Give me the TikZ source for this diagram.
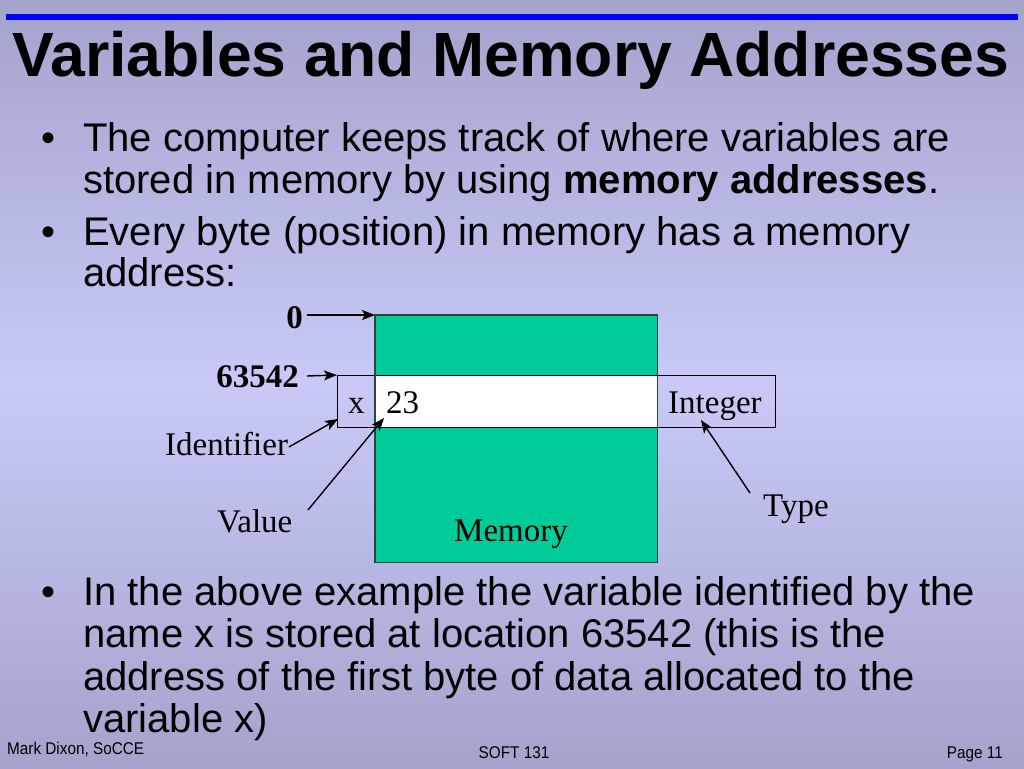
\documentclass[tikz,border=0pt]{standalone}
\usepackage{fontspec}
\setmainfont{Liberation Serif}
\newfontfamily\arial{Liberation Sans}
\usetikzlibrary{arrows.meta}
\definecolor{bgtop}{RGB}{163,163,204}
\definecolor{bgmid}{RGB}{201,201,248}
\definecolor{memgreen}{RGB}{0,204,153}
\definecolor{memedge}{RGB}{40,70,60}
\definecolor{titleblue}{RGB}{0,0,255}
\newcommand{\footfont}{\arial\fontsize{17}{20}\selectfont}
\begin{document}
\begin{tikzpicture}[x=1pt,y=-1pt,
  body/.style={anchor=base west,inner sep=0pt,font=\arial\fontsize{40}{46}\selectfont},
  bul/.style={anchor=base,inner sep=0pt,font=\arial\fontsize{40}{46}\selectfont},
  lbl/.style={anchor=base west,inner sep=0pt,font=\fontsize{33}{38}\selectfont},
  addr/.style={anchor=base east,inner sep=0pt,font=\fontsize{33}{38}\selectfont\bfseries},
  foot/.style={inner sep=0pt,font=\footfont},
  arr/.style={-{Stealth[length=13pt,width=10pt,inset=3pt]},line width=1.4pt},
  cell/.style={draw=black,line width=1pt},
  memborder/.style={draw=memedge,line width=1.5pt}
]
\useasboundingbox (0,0) rectangle (1024,768);
\shade[top color=bgtop,bottom color=bgtop,middle color=bgmid] (0,0) rectangle (1024,768);
\fill[titleblue] (6,14) rectangle (1018,20);
\node[anchor=base west,inner sep=0pt,font=\arial\bfseries\fontsize{62.5}{70}\selectfont] (title) at (12,76) {Variables and Memory Addresses};

% bullets and body text
\node[bul] (b1) at (49,151) {•};
\node[body] (t1) at (83,151) {The computer keeps track of where variables are};
\node[body] (t2) at (83,193) {stored in memory by using \textbf{memory addresses}.};
\node[bul] (b2) at (49,245) {•};
\node[body] (t3) at (83,245) {Every byte (position) in memory has a memory};
\node[body] (t4) at (83,286) {address:};
\node[bul] (b3) at (49,605) {•};
\node[body] (t5) at (83,605) {In the above example the variable identified by the};
\node[body] (t6) at (83,647) {name x is stored at location 63542 (this is the};
\node[body] (t7) at (83,690) {address of the first byte of data allocated to the};
\node[body] (t8) at (83,732) {variable x)};

% memory diagram
\node[fill=memgreen,inner sep=0pt,minimum width=282pt,minimum height=247pt,anchor=north west] (mem) at (375,315) {};
\node[fill=white,inner sep=0pt,minimum width=282pt,minimum height=52pt,anchor=north west] (band) at (375,375) {};
\node[cell,inner sep=0pt,minimum width=38pt,minimum height=52pt,anchor=north west] (xbox) at (337,375) {};
\node[cell,inner sep=0pt,minimum width=118pt,minimum height=52pt,anchor=north west] (tbox) at (657,375) {};
\draw[cell] (band.north west) -- (band.north east);
\draw[cell] (band.south west) -- (band.south east);
\draw[memborder] (mem.north west) rectangle (mem.south east);

\node[lbl] (xname) at (348,413) {x};
\node[lbl] (val) at (386,413) {23};
\node[lbl] (typ) at (668,413) {Integer};
\node[lbl] (ident) at (165,455) {Identifier};
\node[lbl] (value) at (217,532) {Value};
\node[lbl] (memlbl) at (454,541) {Memory};
\node[lbl] (type) at (763,516) {Type};
\node[addr] (zero) at (303,328) {0};
\node[addr] (a63542) at (299,387) {63542};

\coordinate (zs) at (307,315);
\coordinate (as) at (307,376);
\coordinate (is) at (289,447);
\coordinate (ie) at (338,419);
\coordinate (vs) at (308,510);
\coordinate (ve) at (384,418);
\coordinate (ts) at (750,493);
\coordinate (te) at (701,420);
\draw[arr] (zs) -- (mem.north west);
\draw[arr] (as) -- (xbox.north west);
\draw[arr] (is) -- (ie);
\draw[arr] (vs) -- (ve);
\draw[arr] (ts) -- (te);

% footer
\node[foot,anchor=base west] (f1) at (7,754) {\scalebox{0.9}[1]{Mark Dixon, SoCCE}};
\node[foot,anchor=base] (f2) at (514,758) {\scalebox{0.9}[1]{SOFT 131}};
\node[foot,anchor=base east] (f3) at (1003,758) {\scalebox{0.9}[1]{Page 11}};
\end{tikzpicture}
\end{document}
